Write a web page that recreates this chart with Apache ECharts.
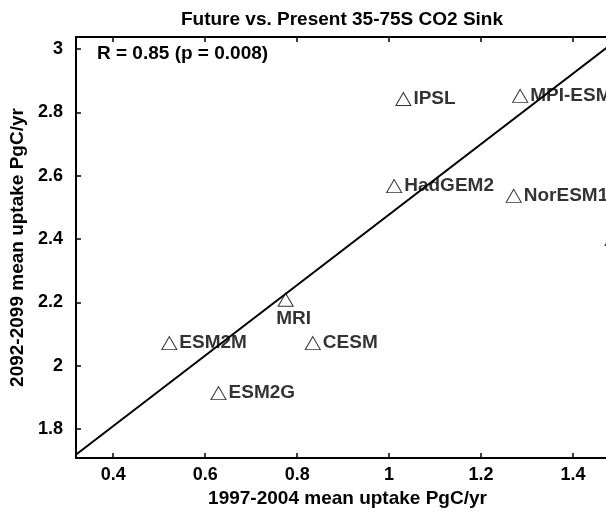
<!DOCTYPE html>
<html>
<head>
<meta charset="utf-8">
<script src="https://cdn.jsdelivr.net/npm/echarts@6/dist/echarts.min.js"></script>
<style>
html,body{margin:0;padding:0;background:#fff;}
#chart{width:606px;height:512px;}
</style>
</head>
<body>
<div id="chart"></div>
<script>
// ---- data ----
const models = ['IPSL', 'MPI-ESM', 'HadGEM2', 'NorESM1', '', 'MRI', 'ESM2M', 'CESM', 'ESM2G'];
const presentUptake = [1.031, 1.285, 1.011, 1.271, 1.486, 0.775, 0.522, 0.834, 0.629];
const futureUptake = [2.842, 2.852, 2.567, 2.536, 2.40, 2.208, 2.071, 2.071, 1.913];
const fitX = [0.32, 1.5];
const fitY = [1.72, 3.034];
const titleText = 'Future vs. Present 35-75S CO2 Sink';
const xName = '1997-2004 mean uptake PgC/yr';
const yName = '2092-2099 mean uptake PgC/yr';
const statText = 'R = 0.85 (p = 0.008)';

const FONT = '"Liberation Sans", Arial, sans-serif';
const chart = echarts.init(document.getElementById('chart'), null, {renderer: 'canvas'});

const points = models.map((m, i) => ({
  name: m,
  value: [presentUptake[i], futureUptake[i]],
  label: m === 'MRI' ? {position: 'bottom', distance: 3, offset: [8, 0]} : undefined
}));

const nameText = {color: '#000', fontFamily: FONT, fontWeight: 'bold', fontSize: 19};
const tickText = {color: '#000', fontFamily: FONT, fontWeight: 'bold', fontSize: 18};

chart.setOption({
  animation: false,
  backgroundColor: '#fff',
  grid: {left: 76, top: 37, width: 543, bottom: 54, containLabel: false, outerBoundsMode: 'none'},
  xAxis: [{
    type: 'value', min: 0.319, max: 1.5, splitNumber: 6,
    name: xName, nameLocation: 'middle', nameGap: 30,
    nameTextStyle: nameText,
    axisLine: {show: true, onZero: false, lineStyle: {color: '#000', width: 2}},
    axisTick: {inside: true, length: 5, lineStyle: {color: '#000', width: 1.5}},
    axisLabel: Object.assign({margin: 8, showMinLabel: false, showMaxLabel: false,
      formatter: v => String(+v.toFixed(2))}, tickText),
    splitLine: {show: false}
  }, {
    type: 'value', position: 'top', min: 0.319, max: 1.5, splitNumber: 6,
    axisLine: {show: true, onZero: false, lineStyle: {color: '#000', width: 2}},
    axisTick: {inside: true, length: 5, lineStyle: {color: '#000', width: 1.5}},
    axisLabel: {show: false}, splitLine: {show: false}
  }],
  yAxis: {
    type: 'value', min: 1.708, max: 3.038, splitNumber: 6,
    name: yName, nameLocation: 'middle', nameGap: 47, nameRotate: 90,
    nameTextStyle: nameText,
    axisLine: {show: true, onZero: false, lineStyle: {color: '#000', width: 2}},
    axisTick: {inside: true, length: 5, lineStyle: {color: '#000', width: 1.5}},
    axisLabel: Object.assign({margin: 13, showMinLabel: false, showMaxLabel: false,
      formatter: v => String(+v.toFixed(2))}, tickText),
    splitLine: {show: false}
  },
  graphic: [{
    type: 'text', x: 342, y: 20,
    style: {text: titleText, fill: '#000', font: 'bold 19px ' + FONT, textAlign: 'center', textVerticalAlign: 'middle'}
  }, {
    type: 'text', x: 97, y: 54,
    style: {text: statText, fill: '#000', font: 'bold 19px ' + FONT, textAlign: 'left', textVerticalAlign: 'middle'}
  }],
  series: [{
    type: 'line',
    data: fitX.map((x, i) => [x, fitY[i]]),
    symbol: 'none', clip: true,
    lineStyle: {color: '#000', width: 2},
    z: 3
  }, {
    type: 'scatter',
    data: points,
    symbol: 'triangle', symbolSize: [15, 13],
    itemStyle: {color: 'rgba(255,255,255,0)', borderColor: '#000', borderWidth: 1},
    label: {show: true, position: 'right', distance: 2, formatter: p => p.name,
      color: '#000', fontFamily: FONT, fontWeight: 'bold', fontSize: 19},
    clip: false,
    z: 4
  }]
});
</script>
</body>
</html>
